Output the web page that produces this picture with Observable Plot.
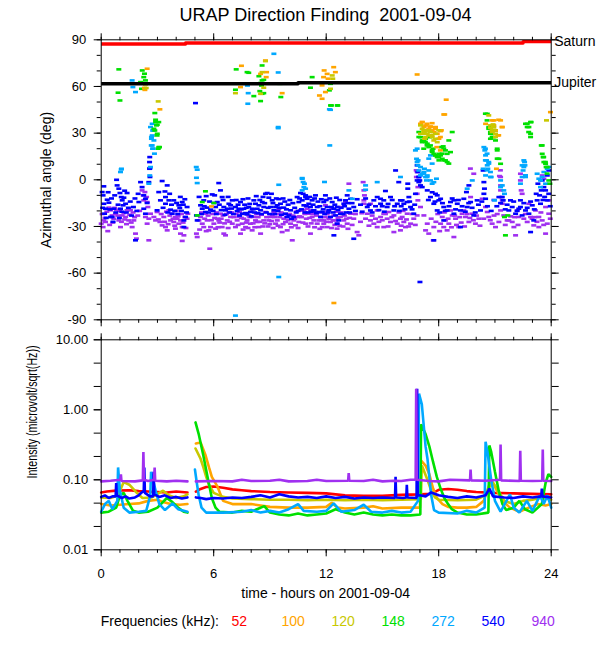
<!DOCTYPE html>
<html><head><meta charset="utf-8">
<script src="https://cdn.jsdelivr.net/npm/d3@7"></script>
<script src="https://cdn.jsdelivr.net/npm/@observablehq/plot@0.6"></script>
<style>
body{margin:0;background:#fff;overflow:hidden;}
#wrap{position:relative;width:600px;height:650px;font-family:"Liberation Sans",Arial,Helvetica,sans-serif;color:#000;background:#fff;}
.abs{position:absolute;white-space:pre;line-height:1;}
</style></head><body><div id="wrap"></div>
<script>
// ---------- labels ----------
const titleText = "URAP Direction Finding  2001-09-04";
const yTopLabel = "Azimuthal angle (deg)";
const yBotLabel = "Intensity (microvolt/sqrt(Hz))";
const xLabel = "time - hours on 2001-09-04";
const legendTitle = "Frequencies (kHz):";
const freqs = ["52", "100", "120", "148", "272", "540", "940"];
const colors = ["#ff0000", "#ffa500", "#c8c800", "#00e000", "#00a8ff", "#0000ff", "#a030f0"];

// ---------- tick values ----------
const hourTicks = d3.range(0, 25, 1);
const hourMajor = [0, 6, 12, 18, 24];
const angTicks = d3.range(-90, 91, 10);
const angMajor = [-90, -60, -30, 0, 30, 60, 90];
const intTicks = [10, 4.6416, 2.1544, 1, 0.46416, 0.21544, 0.1, 0.046416, 0.021544, 0.01];
const intMajor = [10, 1, 0.1, 0.01];

// ---------- planet directions [hour, deg] ----------
const planetNames = ["Saturn", "Jupiter"];
const saturnPath = [[0, 87.3], [4.5, 87.9], [22.5, 88.8], [24, 88.8]];
const jupiterPath = [[0, 61.7], [10.5, 62.4], [24, 62.4]];

// ---------- azimuth scatter [hour, deg] ----------
const az940 = [[0.0,-28.2],[0.1,-30.4],[0.14,-26.1],[0.23,-27.1],[0.35,-33],[0.41,-17.9],[0.5,-19.6],[0.58,-22.9],[0.67,-25],[0.76,-21.8],[0.82,-19.2],
[0.94,-26.1],[1.03,-30.4],[1.12,-22.9],[1.21,-21.4],[1.3,-23.9],[1.38,-19.6],[1.47,-26.1],[1.56,-19.6],[1.65,-30.4],[1.74,-26.1],[1.83,-34.6],[1.88,-37.8],
[2.18,-6.8],[2.24,-10],[2.27,-13.2],[2.33,-7.9],[2.42,-11.1],[2.45,-14.3],[2.49,-17.5],[2.36,-23.9],[2.45,-28.2],[2.54,-25],[2.63,-21.8],[2.54,-38.9],
[2.81,-23.9],[2.9,-26.1],[2.98,-20.7],[3.13,-27.1],[3.25,-29.3],[3.34,-23.9],[3.43,-30.4],[3.52,-32.5],
[3.61,-19.6],[3.7,-26.1],[3.78,-21.8],[3.87,-27.1],[3.96,-23.9],[4.05,-25],[4.14,-28.2],[4.23,-26.1],[4.32,-30.4],[3.96,-31.4],[4.23,-34.6],[4.32,-39.3],[4.41,-35.7],[4.58,-25],[4.62,-21.8],
[5.08,-34.6],[5.12,-36.8],
[5.21,-26.1],[5.3,-23.9],[5.39,-28.2],[5.47,-30.4],[5.56,-21.8],[5.65,-26.1],[5.74,-32.5],[5.79,-44.3],[5.83,-30.4],[6.01,-28.2],[6.1,-31.4],[6.19,-25],[6.27,-26.1],[6.36,-21.8],[6.45,-30.4],[6.54,-34.6],[6.63,-35.7],[6.72,-26.1],[6.81,-20.7],[6.9,-23.9],[6.99,-28.2],
[7.16,-30.4],[7.25,-26.1],[7.34,-23.9],[7.43,-34.6],[7.52,-28.2],[7.61,-25],[7.7,-30.4],[7.78,-26.1],[7.87,-22.9],[7.96,-28.2],[8.05,-32.5],[8.14,-23.9],[8.23,-26.1],[8.32,-27.1],[8.41,-30.4],[8.5,-34.6],[8.67,-26.1],[8.76,-20.7],
[8.94,-26.1],[9.03,-23.9],[9.12,-22.9],[9.21,-20.7],[9.3,-28.2],[9.39,-26.1],[9.47,-18.6],[9.56,-30.4],[9.65,-33.6],[9.74,-25],[9.83,-27.1],[9.92,-32.5],[10.1,-28.2],[10.19,-38.9],[10.27,-26.1],[10.36,-29.3],[10.45,-23.9],[10.54,-27.1],[10.63,-19.6],
[10.81,-19.6],[10.98,-18.6],[11.07,-21.8],[11.16,-19.6],[11.25,-23.9],[11.34,-26.1],[11.43,-20.7],[11.52,-28.2],[11.61,-26.1],[11.7,-23.9],[11.79,-30.4],[11.87,-26.1],[12.05,-30.4],[12.14,-25],[12.23,-27.1],[12.32,-18.6],[12.41,-22.9],[12.5,-26.1],[12.58,-31.4],[12.76,-23.9],[12.94,-26.1],[13.12,-28.2],[13.21,-2.5],[13.3,-21.8],
[10.72,-19.7],[10.9,-28.2],[11.16,-34.6],[11.87,-28.2],[12.05,-22],[12.59,-28.2],[12.76,-17.5],[13.03,-14.3],[11.96,-16.4],[13.47,-25],[13.65,-33.6],[13.74,-35.7],
[13.97,-1.5],[14.01,-6.8],[14.04,-10],[14.01,-13.2],[14.01,-15.4],
[14.19,-21.8],[14.36,-26.1],[14.54,-28.2],[14.72,-30.4],[14.9,-23.9],[15.07,-21.8],[15.25,-25],[15.43,-27.1],[15.61,-22.9],[15.79,-28.2],[15.96,-25],[14.72,-19.7],[15.07,-30.4],[15.61,-33.6],[15.96,-32.5],[14.36,-15.4],[15.34,-20.7],
[16.05,-23.9],[16.14,-27.1],[16.32,-21.8],[16.5,-28.2],[16.67,-25],[16.85,-22.9],[16.23,-30.4],
[16.85,5],[16.89,-4.7],[16.85,-9],[16.89,-13.2],[17.03,-17.5],[17.21,-22.9],[17.39,-28.2],[17.3,-32.5],[17.47,-34.6],[17.71,-38.9],[17.74,-30.4],[18.1,-28.2],[18.27,-30.4],
[18.19,-23.9],[18.36,-26.1],[18.54,-28.2],[18.72,-22.9],[18.9,-25],[19.07,-30.4],[19.25,-21.8],[19.43,-23.9],[19.61,-27.1],[19.79,-21.8],[19.96,-28.2],[20.14,-25],[18.45,-32.5],[18.81,-36.8],[19.34,-19.7],[19.7,-11.1],[18.63,-19.7],
[20.32,-12.2],[20.5,-17.5],[20.59,-20.7],[20.67,-23.9],[20.85,-28.2],[21.03,-30.4],[21.21,-27.1],[21.3,-19.7],[21.47,-22.9],[21.65,-26.1],[21.39,-13.2],
[21.3,1.8],[21.3,-3.6],[21.3,-6.8],[21.39,-15.4],[21.33,-11.1],
[21.74,-26.1],[21.92,-27.1],[22.1,-35.7],[22.27,-23.9],[22.36,3.9],[22.36,-0.4],[22.4,-6.8],[22.45,-9],[22.54,-25],[22.72,-27.1],[22.9,-23.9],[23.07,-29.3],[22.01,-30.4],[22.19,-19.7],[22.81,-15.4],
[23.52,2.8],[23.61,0.7],[23.7,-17.5],[23.87,-21.8],[23.16,-19.7],[23.34,-23.9],[23.52,-26.1],[23.79,-28.2],[23.34,-30.4],[23.7,-34.6],[23.87,-13.2],
[16.8,6.1],[16.81,1.8],[19.69,7.2],[19.87,3.9],[21.29,6.1],[21.24,2.4],
[0.05,-22],[0.2,-24.5],[0.3,-20.5],[0.45,-29],[0.62,-27.5],[0.72,-18],[0.88,-23],[0.98,-20],[1.08,-27],[1.25,-25.5],[1.35,-28.5],[1.52,-22.5],[1.6,-27.5],[1.7,-21],[1.78,-24],[1.95,-23],[2.05,-20],
[3.05,-25.5],[3.2,-22],[3.38,-27],[3.48,-20.5],[3.57,-28.5],[3.66,-23],[3.83,-25],[3.92,-29.5],[4.0,-20],[4.1,-23.5],[4.28,-22],[4.37,-27.5],[4.46,-24],[4.52,-31],
[5.25,-32],[5.35,-21],[5.52,-25],[5.6,-33],[5.7,-23],[5.88,-26],[5.95,-22],[6.05,-24.5],[6.15,-21],[6.23,-30.5],[6.32,-27.5],[6.4,-25],[6.5,-23],[6.58,-28],[6.68,-22],[6.77,-31],[6.85,-27],[6.95,-21],
[7.08,-24],[7.2,-22],[7.3,-29],[7.38,-20.5],[7.48,-24.5],[7.57,-32],[7.65,-22],[7.74,-27.5],[7.83,-31],[7.92,-24],[8.0,-20.5],[8.1,-28],[8.19,-30.5],[8.28,-22],[8.37,-24],[8.46,-27],[8.55,-22.5],[8.62,-30],[8.72,-28],[8.82,-24],[8.9,-30],[8.99,-28.5],[9.08,-26.5],[9.17,-31],[9.26,-24],[9.35,-22],[9.43,-29.5],[9.52,-24],[9.6,-21],[9.7,-28.5],[9.78,-22],[9.88,-24],[9.97,-26],[10.05,-22],[10.14,-30.5],[10.23,-23],[10.32,-25],[10.4,-20.5],[10.5,-31],[10.58,-23.5],
[10.68,-24],[10.76,-27.5],[10.86,-22],[10.94,-25],[11.03,-30],[11.12,-24.5],[11.2,-28],[11.3,-22],[11.38,-30.5],[11.48,-23],[11.56,-21],[11.66,-31.5],[11.74,-26],[11.84,-21],[11.92,-24],[12.0,-27],[12.1,-20],[12.19,-24],[12.28,-31],[12.37,-26],[12.46,-29],[12.54,-20.5],[12.63,-24.5],[12.72,-29.5],[12.8,-21],[12.9,-30],[12.98,-23],[13.07,-25],[13.16,-31.5],[13.25,-24.5],
[13.38,-29],[13.56,-22],[13.83,-27],[13.9,-21.5],[14.1,-25],[14.28,-29.5],[14.45,-23],[14.63,-25],[14.81,-27],[14.99,-26],[15.16,-22],[15.3,-30],[15.5,-24],[15.7,-26.5],[15.88,-21],[16.0,-29.5],[16.1,-20],[16.28,-25.5],[16.4,-30],[16.58,-22],[16.75,-29],
[17.6,-25],[17.85,-27],[17.95,-22],[18.05,-33],[18.3,-21],[18.5,-25],[18.68,-30.5],[18.85,-23],[18.95,-29],[19.12,-24],[19.2,-27.5],[19.38,-30],[19.52,-22],[19.66,-24.5],[19.85,-26],[20.02,-23],[20.2,-29.5],[20.4,-25],[20.75,-26],[20.95,-23],[21.12,-22],[21.55,-29],[21.84,-23.5],[22.05,-24],[22.23,-29],[22.62,-22],[22.98,-25],[23.12,-24],[23.24,-27],[23.45,-21],[23.6,-29],[23.95,-25]];

const az540 = [[0.05,-7.9],[0.1,-10],[0.14,-15.4],[0.18,-21.8],[0.23,-18.6],[0.32,-12.8],[0.41,-14.7],[0.5,-23.9],[0.58,-23.9],[0.67,-18.6],[0.14,-4.2],
[0.82,0],[0.85,-3.6],[0.94,-5.7],[1.0,-8.5],[1.07,-11.1],[1.12,-13.2],[1.21,-11.5],[1.3,-15.4],[1.38,-8.5],[1.03,-18.6],[1.17,-16.4],[1.83,-38.9],
[2.01,-14.3],[2.1,-1.5],[2.18,-4.7],[2.27,-10],[2.36,-12.2],[2.45,-14.9],[2.54,-1.5],[2.58,7.1],[2.59,14.6],[2.27,-18.6],[2.36,-21.8],
[3.25,-0.8],[3.07,-7.9],[3.16,-13.2],[2.98,-19.6],
[3.43,-11.1],[3.52,-3.6],[3.61,-13.2],[3.7,-19.2],[3.78,-21.8],[4.14,-16.4],[4.32,-14.3],[4.41,-26.1],[4.5,-23.9],[4.41,-30.4],[4.58,-17.5],[3.87,-13.2],[4.02,-14.9],[4.19,-18.1],[3.43,-15.4],
[5.08,-22.9],[5.12,-26.1],
[5.3,-16.4],[5.39,-18.6],[5.47,-13.2],[5.56,-20.7],[5.65,-17.9],[5.83,-19.2],[5.92,-9.4],[6.01,-14.9],[6.1,-17.5],[6.19,-14.3],[6.27,-2.1],[6.36,-6.8],[6.45,-11.1],[6.54,-17.5],[6.63,-19.6],[6.72,-18.6],[6.81,-15.4],[6.9,-16.4],[6.99,-13.2],
[7.16,-17.5],[7.25,-20.1],[7.34,-18.6],[7.43,-14.3],[7.52,-21.8],[7.61,-18.6],[7.7,-21.4],[7.78,-22.2],[7.87,-17.5],[7.96,-20.7],[8.05,-18.6],[8.14,-13.2],[8.23,-15.4],[8.32,-18.6],[8.41,-16.4],[8.5,-19.6],[8.59,-14.3],[8.67,-17.5],[8.76,-9],[8.85,-8.5],
[8.94,-11.5],[9.03,-17.5],[9.12,-13.2],[9.21,-19.6],[9.3,-17.5],[9.39,-16.4],[9.47,-12.4],[9.56,-15.4],[9.74,-17.9],[9.83,-21.8],[9.92,-23.9],[10.01,-22.9],[10.1,-19.6],[10.27,-23.9],[10.45,-11.1],[10.54,-14.3],[10.63,-8.5],
[10.72,-13.2],[10.81,-16.4],[10.9,-10],[10.98,-12.2],[11.07,-15.4],[11.16,-17.5],[11.25,-13.2],[11.34,-19.6],[11.43,-10],[11.52,-17.5],[11.61,-20.7],[11.7,-23.9],[11.79,-20.7],[11.87,-14.3],[11.96,-10],[12.05,-17.5],[12.14,-19.6],[12.23,-23.9],[12.32,-14.3],[12.41,-18.6],[12.5,-22.9],[12.58,-28.2],[12.67,-26.1],[12.76,-21.8],[12.94,-15.4],[13.03,-13.2],[13.12,-10],[13.21,-18.6],[13.3,-12.2],
[10.9,-11.1],[11.34,-19.7],[12.59,-17.5],[12.41,-35.7],[13.47,-37.9],[13.47,-17.5],
[14.19,-17.5],[14.36,-19.7],[14.54,-13.2],[14.72,-11.1],[14.9,-15.4],[15.07,-13.2],[15.25,-17.5],[15.43,-11.1],[15.61,-19.7],[15.79,-15.4],[15.96,-13.2],[15.7,6],[15.87,-1.5],[15.16,-7.2],[14.9,-12.2],
[16.05,-13.2],[16.14,-15.4],[16.32,-14.3],[16.41,-11.1],[16.5,-17.5],[16.67,-21.8],[16.76,-9],[16.35,-2.5],[16.35,-5.7],
[16.89,5],[16.94,1.8],[16.94,-1.5],[16.99,-0.4],[17.03,-3.6],[16.85,-0.4],[17.12,-4.7],[17.39,-6.8],[17.56,-11.1],[17.74,-15.4],[17.92,-10],[18.01,-13.2],[17.83,-9],[17.92,-19.7],[17.74,-38.9],
[18.27,-17.5],[18.45,-19.7],[18.63,-14.3],[18.81,-21.8],[18.99,-15.4],[19.16,-19.7],[19.34,-12.2],[19.52,-17.5],[19.7,-14.3],[19.87,-22.9],[20.05,-13.2],[20.23,-19.7],[18.81,-13.2],[19.16,-30.4],[18.27,-26.1],[18.1,-12.2],[19.48,-7.9],[19.61,-3.6],
[20.37,6],[20.41,-1.5],[20.44,-5.7],[20.41,-9],[20.5,-12.2],
[21.21,-11.1],[21.39,-11.1],[21.44,-13.2],
[21.74,-19.7],[21.92,-17.5],[22.1,-21.8],[22.27,-18.6],[22.45,-22.9],[22.63,-19.7],[22.81,-21.8],[22.99,-16.4],[21.83,-13.2],[22.36,-13.2],[22.9,-33.6],[23.07,-26.1],
[23.29,-2.5],[23.52,-0.4],[23.61,-4.7],[23.7,-6.8],[23.79,2.8],[23.87,6],[23.47,-6.8],[23.25,-13.2],[23.43,-15.4],[23.79,-13.2],[23.87,-9],
[17.0,-65.7],[2.58,11.4],[2.6,7.5],[2.6,1.8],[5.03,49.3],[16.85,9.3],[16.94,1.8],
[0.08,-18],[0.27,-24.5],[0.37,-8],[0.46,-19],[0.55,-12],[0.63,-27],[0.72,-10],[0.78,-21],[0.9,-16],[0.97,-24.5],[1.1,-20.5],[1.25,-7],[1.34,-21],[1.45,-18],[1.55,-14],[1.62,-23],[1.72,-17.5],[1.8,-12],[1.9,-20],[1.97,-9],
[3.3,-18],[3.4,-7.5],[3.55,-21],[3.65,-9],[3.75,-16],[3.92,-20],[4.08,-22],[4.22,-11],[4.28,-20],[4.38,-16],[4.46,-12.5],[4.55,-21],
[5.22,-11],[5.35,-22],[5.5,-17],[5.6,-10.5],[5.72,-21],[5.78,-14],[5.97,-20],[6.05,-10],[6.14,-22],[6.3,-16],[6.4,-19.5],[6.5,-13],[6.6,-22.5],[6.77,-11],[6.85,-21],[6.95,-18.5],
[7.05,-22],[7.2,-13],[7.3,-16],[7.38,-23],[7.47,-19],[7.56,-12.5],[7.65,-16],[7.74,-18],[7.83,-12],[7.92,-15.5],[8.0,-23.5],[8.1,-19],[8.19,-21],[8.27,-10.5],[8.36,-21.5],[8.46,-13],[8.55,-22],[8.63,-11],[8.72,-15],[8.81,-21],[8.9,-18],[8.98,-22],[9.08,-9],[9.16,-15],[9.25,-22],[9.34,-12],[9.43,-20],[9.52,-18],[9.61,-22.5],[9.7,-12],[9.79,-14],[9.88,-19],[9.97,-16],[10.06,-13],[10.15,-25],[10.22,-15],[10.32,-18],[10.4,-21],[10.5,-20],[10.58,-12],
[10.68,-19],[10.77,-9],[10.86,-21],[10.94,-17],[11.03,-21],[11.12,-11],[11.2,-20.5],[11.3,-16],[11.38,-12],[11.48,-21.5],[11.56,-14],[11.66,-17],[11.74,-12.5],[11.84,-19],[11.92,-22],[12.0,-13],[12.1,-21],[12.19,-12],[12.28,-17.5],[12.37,-21],[12.46,-16],[12.54,-11.5],[12.63,-19.5],[12.72,-13],[12.8,-18],[12.9,-22],[12.98,-17],[13.07,-21],[13.16,-15],[13.25,-21],
[13.38,-15],[13.56,-20],[13.65,-12.5],[13.83,-16],[13.92,-20.5],[14.1,-12],[14.28,-16],[14.45,-21],[14.63,-17],[14.81,-19.5],[14.99,-17],[15.1,-20.5],[15.3,-15.5],[15.52,-13],[15.65,-17],[15.9,-20],[16.0,-17],[16.2,-19],[16.45,-14],[16.58,-19],[16.72,-16],
[17.45,-13],[17.65,-8],[17.8,-14],[18.05,-21],[18.2,-15],[18.35,-20],[18.55,-17],[18.72,-12],[18.9,-19],[19.05,-13],[19.25,-17],[19.42,-20.5],[19.6,-15],[19.78,-18],[19.95,-21],[20.12,-16],[20.3,-14],[20.6,-17],[20.8,-20],[20.95,-13],[21.1,-17],[21.3,-15],[21.55,-19],[21.65,-16],[22.0,-14],[22.18,-20],[22.36,-17.5],[22.54,-15],[22.72,-18],[22.9,-14],[23.1,-19],[23.2,-9],[23.38,-10],[23.56,-13],[23.65,-11],[23.95,-17]];

const az272 = [[1.03,5],[1.07,6.7],[2.54,-2.5],[2.59,2.8],[2.63,8.2],[2.67,22.1],[2.72,28.5],[2.63,33.9],[2.77,31.7],[2.68,26.4],[2.74,20],[5.07,8.2],[5.12,6.5],[5.08,1.3],[5.12,-2.1],[9.44,33.9],[9.47,-3.2],[9.47,-62.5],[10.72,0.7],[10.77,-1.4],[10.81,-4.7],[10.84,-2.5],[10.72,-6.8],[10.9,-5.7],[12.19,22.1],[11.91,-1.4],[7.16,-87.3],
[12.23,45],[13.39,-12.2],[13.21,-6.8],[14.1,-3.6],[14.1,-6.4],[15.96,1.8],[14.72,-1.5],
[16.76,18.9],[16.82,13.5],[16.85,11.4],[16.89,9.3],[16.94,6],[17.03,2.8],[17.12,3.9],[17.21,5],[17.3,1.8],[17.39,2.8],[17.47,6],[17.35,-0.4],[17.24,7.1],[17.56,-0.4],[17.65,-2.5],[17.74,-1.5],[17.88,0.7],
[19.52,-5.7],[19.79,-0.4],
[20.41,21],[20.46,18.9],[20.5,15.7],[20.55,12.5],[20.59,9.3],[20.67,11.4],[20.62,7.1],[20.76,5],[20.5,2.8],[20.8,1.8],[20.37,7.1],[21.3,-4.7],[21.39,-3.6],[21.47,-6.8],[21.51,-9],[20.98,-13.2],[21.3,-0.4],
[22.45,9.3],[22.5,6],[22.54,8.2],[22.63,1.8],[22.58,11.4],[22.36,-2.5],
[23.25,3.9],[23.34,0.7],[23.43,-0.4],[23.52,1.8],[23.61,5],[23.79,7.1],[23.87,8.2],[23.43,-4.7],[23.7,-2.5],
[1.65,63.9],[1.69,59.6],[1.83,56.4],[2.72,36],[2.75,31.7],[2.68,27.5],[2.81,25.3],[2.72,22.1],[2.77,20],[2.84,16.8],[1.08,7.1],[10.72,1.1],[9.21,81],[9.44,69],[7.84,55.7],[7.8,60.6],[7.82,48.9],[9.44,33.2],
[12.17,45.3],[16.85,20],[16.9,12.5],[17.03,8.2],[17.2,4],[17.38,1.8],[17.56,15.7],[17.47,13.6],[17.65,10.4],[20.49,20],[20.58,16.8],[20.49,12.5],[20.67,10.4],[20.58,6.1],[20.76,1.8],[22.54,12.5],[22.6,9.3],[22.63,2.9],[22.45,1.8]];

const az148 = [[2.81,32.8],[2.95,35],[2.98,28.5],[3.07,21],[2.9,37.1],[5.12,-22.9],[5.39,-14.3],[5.56,-7.4],[6.01,-14.9],
[12.23,47.8],[12.59,47.8],
[16.94,30.7],[17.03,27.4],[17.12,24.2],[17.21,25.3],[17.3,26.4],[17.39,23.2],[17.47,21],[17.56,22.1],[17.65,18.9],[17.74,16.7],[17.83,15.7],[17.92,14.6],[18.01,16.7],[18.1,15.7],[18.19,13.5],[18.27,12.5],[18.36,18.9],[18.45,16.7],[18.54,25.3],[18.63,17.8],[18.45,11.4],[17.53,27.4],[17.24,29.6],[17.7,20],[18.01,12.5],[18.24,21.5],
[20.59,42.4],[20.67,33.9],[20.76,30.7],[20.85,29.6],[20.94,27.4],[21.03,31.7],[21.12,18.9],[21.21,13.5],[21.3,10.3],[20.76,26.4],[21.51,-23.9],
[22.72,36],[22.81,33.9],[22.9,29.6],[22.93,37.1],[21.69,-22.9],[21.56,-35.7],
[23.47,22.1],[23.52,16.7],[23.57,14.6],[23.61,11.4],[23.7,10.3],[23.79,8.2],[23.87,-0.4],[23.93,-2.5],
[0.94,71],[0.9,56],[1.0,51],[2.19,70.3],[2.31,68.2],[2.27,66],[2.36,63.9],[2.15,58.5],[2.1,62.8],[2.86,42.9],[2.9,38.6],[2.99,35.4],[3.07,37.1],[2.86,31.7],[2.99,29.6],[3.11,21],[3.04,20],
[7.2,71],[7.78,69.2],[7.87,68.8],[8.58,73.5],[8.41,66.6],[8.58,63.9],[8.5,62.2],[8.67,64.3],[8.55,60.6],[8.46,57],[8.58,55.3],[8.67,55.7],[8.5,50.6],[7.16,57.9],[9.58,53.2],[9.53,61.7],[8.14,53.8],[11.25,66],[11.16,59.2],
[12.23,61.7],[12.17,57.5],[12.28,47.8],[12.62,47.8],[16.94,27.5],[17.12,25.3],[17.29,24.3],[17.38,22.1],[17.2,20],[17.65,17.9],[17.83,15.7],[18.0,14.6],[18.18,16.8],[18.36,12.5],[18.54,10.4],[18.72,30.7],[18.27,20],[18.14,21],
[20.49,42.5],[20.58,38.2],[20.67,32.8],[20.76,29.6],[20.85,27.5],[21.03,25.3],[21.12,20],[21.12,13.6],[22.63,36],[22.72,33.9],[22.9,37.1],[22.8,30.7],[22.9,27.5],[23.52,22.1],[23.6,14.6],[23.69,11.4],[23.73,8.2],[23.78,4]];

const az100 = [[5.88,-17.1],[12.41,-79.2],
[17.03,36],[17.12,37.1],[17.21,33.9],[17.3,34.9],[17.47,32.8],[17.56,34.3],[17.74,30.7],[17.92,29.6],[18.01,26.4],[18.1,31.3],[17.83,33.9],[17.65,36.4],[17.39,31.7],[18.27,42],
[20.5,36],[20.85,38.2],[20.94,35],[21.3,38.2],[21.39,33.9],[21.15,28.5],[21.08,7.1],[23.96,43.5],
[2.45,71.4],[2.31,59.1],[2.33,57.8],[3.13,45.3],[7.48,73.3],[8.5,68.1],[8.82,69.2],[8.8,66],[7.43,59.6],[9.65,55.7],[8.76,76.7],[11.89,70.3],[11.86,66],[11.78,60.7],[11.64,54.2],[11.78,52.1],
[12.4,72.4],[12.49,69.2],[12.05,68.1],[12.1,65],[11.96,56.4],[16.85,67.7],[18.4,51.5],[18.32,42],[17.12,37.1],[17.38,36],[17.56,33.9],[17.65,31.8],[17.83,32.8],[18.09,27.5],[18.14,31.8],[17.9,21],[18.09,18.9],[21.2,38.6],[21.38,33.9],[21.2,28.6],[20.94,38.2],[21.03,31.7]];

const az120 = [[17.12,32.8],[17.21,30.7],[17.3,31.7],[17.39,29.6],[17.47,28.5],[17.56,30.7],[17.65,27.4],[17.74,25.3],[17.83,26.4],[17.92,24.2],[17.3,27.4],[17.03,29.6],
[20.67,41.4],[20.76,33.4],[20.85,30.7],[20.94,32.2],[21.03,29.6],[20.9,35.6],[23.75,38.2],
[3.04,50.4],[8.76,76.3],[8.58,69.2],[8.67,59.2],[8.5,55.3],[7.16,55.7],[2.36,61.3],[2.4,59],
[12.32,67.1],[12.35,65],[12.23,58.5],[17.03,35],[17.2,31.8],[17.29,29.6],[17.47,31.8],[17.65,28.6],[17.83,29.6],[18,31.8],[17.25,26.4],[20.76,35],[20.85,31.8],[20.94,33.9],[21.03,27.5]];

// ---------- intensity traces [hour, microvolt/sqrt(Hz)] (null = data gap) ----------
const int52 = [[0,0.066],[0.3,0.068],[0.8,0.07],[1.5,0.071],[2.0,0.069],[2.5,0.068],[3.0,0.067],[3.5,0.066],[4.0,0.068],[4.6,0.066],[4.8,null],[5.05,0.068],[5.3,0.074],[5.6,0.079],[6.0,0.08],[6.5,0.077],[7.0,0.073],[7.5,0.071],[8.0,0.069],[9.0,0.067],[10.0,0.066],[11.0,0.065],[12.0,0.064],[12.5,0.062],[13.0,0.060],[14.0,0.059],[15.0,0.059],[16.0,0.061],[17.0,0.062],[17.6,0.063],[18.0,0.072],[18.5,0.074],[19.0,0.072],[19.5,0.069],[20.0,0.067],[21.0,0.065],[22.0,0.064],[23.0,0.063],[24.0,0.062]];
const int100 = [[0,0.045],[0.5,0.043],[1.0,0.044],[1.5,0.045],[2.0,0.046],[2.5,0.05],[3.0,0.052],[3.3,0.048],[3.7,0.045],[4.2,0.044],[4.6,0.045],[4.8,null],[5.05,0.33],[5.3,0.34],[5.55,0.23],[5.75,0.15],[5.9,0.11],[6.2,0.08],[6.5,0.05],[7.0,0.045],[8.0,0.045],[8.5,0.043],[9.0,0.041],[10.0,0.04],[11.0,0.04],[12.0,0.041],[12.3,0.047],[12.6,0.04],[13.0,0.039],[14.0,0.04],[14.5,0.042],[15.0,0.039],[16.0,0.04],[17.0,0.04],[17.05,0.19],[17.3,0.16],[17.5,0.12],[17.7,0.075],[17.9,0.055],[18.2,0.045],[18.5,0.041],[19.0,0.04],[19.5,0.04],[20.0,0.041],[20.4,0.05],[20.7,0.085],[20.9,0.09],[21.1,0.07],[21.4,0.05],[21.8,0.04],[22.3,0.035],[22.8,0.04],[23.3,0.045],[23.7,0.043],[24.0,0.045]];
const int120 = [[0,0.056],[0.5,0.055],[0.9,0.06],[1.2,0.093],[1.5,0.085],[1.9,0.065],[2.2,0.055],[2.7,0.056],[3.1,0.065],[3.3,0.07],[3.6,0.06],[4.0,0.055],[4.4,0.058],[4.6,0.062],[4.8,null],[5.03,0.28],[5.3,0.2],[5.45,0.15],[5.6,0.11],[5.75,0.085],[6.0,0.065],[6.5,0.057],[7.0,0.054],[8.0,0.053],[9.0,0.052],[10.0,0.052],[11.0,0.051],[12.0,0.052],[13.0,0.051],[14.0,0.052],[15.0,0.051],[16.0,0.052],[17.05,0.053],[17.1,0.16],[17.4,0.1],[17.6,0.07],[17.8,0.056],[18.0,0.052],[19.0,0.051],[20.0,0.052],[20.5,0.06],[20.85,0.095],[21.1,0.075],[21.5,0.05],[22.0,0.045],[22.5,0.05],[23.0,0.052],[23.5,0.056],[24.0,0.052]];
const int148 = [[0,0.034],[0.4,0.035],[0.8,0.04],[1.0,0.06],[1.2,0.065],[1.4,0.05],[1.7,0.036],[2.0,0.034],[2.5,0.035],[3.0,0.04],[3.5,0.055],[3.8,0.048],[4.1,0.04],[4.4,0.035],[4.6,0.034],[4.8,null],[5.03,0.66],[5.2,0.45],[5.45,0.22],[5.7,0.1],[5.9,0.055],[6.1,0.04],[6.3,0.035],[7.0,0.034],[7.5,0.036],[8.0,0.035],[8.7,0.042],[9.0,0.034],[9.5,0.032],[10.0,0.031],[10.5,0.033],[11.0,0.031],[11.5,0.032],[12.0,0.033],[12.5,0.038],[13.0,0.034],[13.5,0.032],[14.0,0.034],[14.5,0.032],[15.0,0.031],[15.5,0.032],[16.0,0.031],[16.5,0.031],[17.02,0.032],[17.06,0.62],[17.3,0.45],[17.5,0.3],[17.7,0.18],[17.9,0.11],[18.1,0.075],[18.3,0.055],[18.5,0.045],[18.7,0.038],[19.0,0.034],[19.5,0.032],[20.0,0.032],[20.65,0.034],[20.7,0.31],[20.8,0.25],[21.0,0.13],[21.2,0.07],[21.4,0.045],[21.6,0.037],[22.0,0.04],[22.3,0.05],[22.6,0.038],[23.0,0.034],[23.5,0.045],[23.7,0.09],[23.85,0.12],[24.0,0.11]];
const int272 = [[0,0.035],[0.2,0.045],[0.4,0.05],[0.6,0.038],[0.86,0.05],[0.9,0.15],[1.0,0.07],[1.2,0.04],[1.5,0.034],[2.0,0.035],[2.4,0.036],[2.62,0.06],[2.66,0.13],[2.9,0.07],[3.1,0.045],[3.4,0.037],[3.8,0.046],[4.1,0.038],[4.6,0.035],[4.8,null],[5.0,0.14],[5.1,0.09],[5.2,0.06],[5.35,0.04],[5.6,0.034],[6.5,0.034],[7.5,0.035],[8.0,0.037],[8.5,0.034],[9.0,0.036],[9.5,0.034],[10.0,0.038],[10.5,0.045],[10.8,0.036],[11.5,0.035],[12.0,0.036],[12.4,0.046],[12.8,0.035],[13.5,0.037],[14.0,0.044],[14.4,0.035],[15.0,0.034],[15.5,0.036],[16.0,0.034],[16.5,0.035],[16.9,0.05],[16.95,1.7],[17.1,1.2],[17.2,0.6],[17.3,0.3],[17.4,0.2],[17.5,0.11],[17.6,0.06],[17.75,0.037],[18.0,0.034],[19.0,0.033],[19.5,0.036],[20.0,0.034],[20.45,0.04],[20.5,0.35],[20.6,0.25],[20.8,0.1],[21.0,0.05],[21.3,0.035],[21.8,0.062],[22.0,0.04],[22.3,0.034],[22.7,0.05],[23.0,0.036],[23.4,0.06],[23.6,0.045],[23.8,0.06],[24.0,0.04]];
const int540 = [[0,0.057],[0.2,0.06],[0.4,0.055],[0.6,0.058],[0.77,0.058],[0.8,0.09],[0.83,0.06],[1.1,0.055],[1.3,0.058],[1.5,0.054],[1.8,0.056],[2.0,0.06],[2.27,0.07],[2.3,0.15],[2.33,0.065],[2.6,0.058],[2.77,0.058],[2.8,0.13],[2.83,0.062],[3.1,0.057],[3.4,0.06],[3.7,0.055],[4.0,0.057],[4.3,0.054],[4.6,0.056],[4.8,null],[5.05,0.056],[5.3,0.055],[5.6,0.053],[6.0,0.055],[6.5,0.054],[7.0,0.056],[7.5,0.055],[8.0,0.057],[8.5,0.06],[9.0,0.056],[9.5,0.062],[10.0,0.058],[10.5,0.056],[11.0,0.057],[11.5,0.055],[12.0,0.058],[12.5,0.055],[13.0,0.057],[13.5,0.054],[14.0,0.056],[14.5,0.055],[15.0,0.056],[15.67,0.055],[15.7,0.11],[15.73,0.056],[16.1,0.055],[16.27,0.056],[16.3,0.085],[16.33,0.056],[16.82,0.055],[16.85,2.0],[16.88,0.06],[17.0,0.06],[17.3,0.058],[17.6,0.066],[18.0,0.06],[18.5,0.057],[19.0,0.055],[19.5,0.058],[20.0,0.056],[20.5,0.06],[20.7,0.075],[20.9,0.058],[21.5,0.056],[22.0,0.055],[22.5,0.058],[23.0,0.056],[23.47,0.058],[23.5,0.075],[23.53,0.058],[24.0,0.056]];
const int940 = [[0,0.095],[0.5,0.097],[1.02,0.1],[1.05,0.12],[1.08,0.096],[1.8,0.095],[2.22,0.098],[2.25,0.25],[2.28,0.1],[2.5,0.096],[2.82,0.1],[2.85,0.15],[2.88,0.097],[3.5,0.095],[4.0,0.097],[4.6,0.095],[4.8,null],[5.05,0.095],[6,0.096],[7,0.095],[7.5,0.1],[8,0.096],[9,0.097],[9.5,0.1],[10,0.095],[11,0.096],[11.5,0.1],[12,0.096],[13.17,0.097],[13.2,0.125],[13.23,0.097],[14,0.096],[14.5,0.1],[15,0.095],[15.6,0.097],[16,0.096],[16.5,0.1],[16.77,0.1],[16.8,2.0],[16.83,0.1],[17.5,0.096],[18,0.095],[18.6,0.1],[19.67,0.098],[19.7,0.14],[19.73,0.098],[20.5,0.097],[21.27,0.1],[21.3,0.32],[21.33,0.098],[22.32,0.096],[22.35,0.26],[22.38,0.097],[23,0.096],[23.52,0.097],[23.55,0.27],[23.58,0.097],[24,0.096]];

// ---------- build ----------
const FONT = '"Liberation Sans", Arial, Helvetica, sans-serif';
const azSeries = [[az940, 6], [az540, 5], [az272, 4], [az148, 3], [az100, 1], [az120, 2]];
const intSeries = [[int52, 0], [int100, 1], [int120, 2], [int148, 3], [int272, 4], [int540, 5], [int940, 6]];
const dash = {draw(ctx) { ctx.moveTo(-2.5, -1.3); ctx.lineTo(2.5, -1.3); ctx.lineTo(2.5, 1.3); ctx.lineTo(-2.5, 1.3); ctx.closePath(); }};
const blank = () => "";
const planetLabels = [
  {name: planetNames[0], t: saturnPath[saturnPath.length - 1][0], v: saturnPath[saturnPath.length - 1][1]},
  {name: planetNames[1], t: jupiterPath[jupiterPath.length - 1][0], v: jupiterPath[jupiterPath.length - 1][1]}
];

const topPlot = Plot.plot({
  width: 600, height: 330,
  marginTop: 39.3, marginBottom: 10.7, marginLeft: 100.7, marginRight: 49.3,
  style: {fontFamily: FONT, fontSize: "13px", background: "transparent", color: "#000", overflow: "visible"},
  x: {domain: [0, 24]},
  y: {domain: [-90, 90]},
  marks: [
    ...azSeries.map(([arr, ci]) => Plot.dot(arr, {x: d => d[0], y: d => d[1], symbol: dash, fill: colors[ci], strokeWidth: 0, r: 2})),
    Plot.line(saturnPath, {x: d => d[0], y: d => d[1], stroke: "#ff0000", strokeWidth: 3.4, curve: "step-after", strokeLinecap: "butt"}),
    Plot.line(jupiterPath, {x: d => d[0], y: d => d[1], stroke: "#000000", strokeWidth: 3.4, curve: "step-after", strokeLinecap: "butt"}),
    Plot.text(planetLabels, {x: d => d.t, y: d => d.v, text: d => d.name, dx: 3, textAnchor: "start", fontSize: 14, fill: "#000"}),
    Plot.frame({stroke: "#000"}),
    Plot.axisY({anchor: "left", ticks: angTicks, tickSize: 4, tickFormat: blank, label: null}),
    Plot.axisY({anchor: "left", ticks: angMajor, tickSize: 7, tickPadding: 8, tickFormat: d => String(d), fontSize: 13, label: null}),
    Plot.axisY({anchor: "right", ticks: angTicks, tickSize: 4, tickFormat: blank, label: null}),
    Plot.axisY({anchor: "right", ticks: angMajor, tickSize: 7, tickFormat: blank, label: null}),
    Plot.axisX({anchor: "bottom", ticks: hourTicks, tickSize: 3.5, tickFormat: blank, label: null}),
    Plot.axisX({anchor: "bottom", ticks: hourMajor, tickSize: 7, tickFormat: blank, label: null}),
    Plot.axisX({anchor: "top", ticks: hourTicks, tickSize: 3.5, tickFormat: blank, label: null}),
    Plot.axisX({anchor: "top", ticks: hourMajor, tickSize: 7, tickFormat: blank, label: null})
  ]
});

const botPlot = Plot.plot({
  width: 600, height: 320,
  marginTop: 9.3, marginBottom: 100.7, marginLeft: 100.7, marginRight: 49.3,
  style: {fontFamily: FONT, fontSize: "13px", background: "transparent", color: "#000", overflow: "visible"},
  x: {domain: [0, 24]},
  y: {type: "log", domain: [0.01, 10]},
  marks: [
    ...intSeries.map(([arr, ci]) => Plot.line(arr, {x: d => d[0], y: d => d[1], stroke: colors[ci], strokeWidth: 2.6, strokeLinejoin: "miter"})),
    Plot.frame({stroke: "#000"}),
    Plot.axisY({anchor: "left", ticks: intTicks, tickSize: 7, tickFormat: blank, label: null}),
    Plot.axisY({anchor: "left", ticks: intMajor, tickSize: 7, tickPadding: 6, tickFormat: d3.format(".2f"), fontSize: 13, label: null}),
    Plot.axisY({anchor: "right", ticks: intTicks, tickSize: 7, tickFormat: blank, label: null}),
    Plot.axisX({anchor: "top", ticks: hourTicks, tickSize: 3.5, tickFormat: blank, label: null}),
    Plot.axisX({anchor: "top", ticks: hourMajor, tickSize: 7, tickFormat: blank, label: null}),
    Plot.axisX({anchor: "bottom", ticks: hourTicks, tickSize: 3.5, tickFormat: blank, label: null}),
    Plot.axisX({anchor: "bottom", ticks: hourMajor, tickSize: 7, tickPadding: 12, tickFormat: d => String(d), fontSize: 13, label: null})
  ]
});

const wrap = document.getElementById("wrap");
topPlot.style.position = "absolute"; topPlot.style.left = "0px"; topPlot.style.top = "0px";
botPlot.style.position = "absolute"; botPlot.style.left = "0px"; botPlot.style.top = "330px";
wrap.appendChild(topPlot);
wrap.appendChild(botPlot);

function addText(txt, css) {
  const d = document.createElement("div");
  d.className = "abs";
  d.textContent = txt;
  Object.assign(d.style, css);
  wrap.appendChild(d);
  return d;
}
addText(titleText, {left: "0px", width: "651px", textAlign: "center", top: "6px", fontSize: "18px"});
addText(yTopLabel, {left: "46px", top: "180px", fontSize: "14px", transform: "translate(-50%,-50%) rotate(-90deg)"});
addText(yBotLabel, {left: "32px", top: "412px", fontSize: "14px", transform: "translate(-50%,-50%) rotate(-90deg) scaleX(0.76)"});
addText(xLabel, {left: "325.7px", top: "593px", fontSize: "14px", transform: "translate(-50%,-50%)"});
addText(legendTitle, {left: "100.7px", top: "614px", fontSize: "14px"});
freqs.forEach((f, i) => addText(f, {left: (231.4 + 50 * i) + "px", top: "614px", fontSize: "14px", color: colors[i]}));
</script></body></html>
